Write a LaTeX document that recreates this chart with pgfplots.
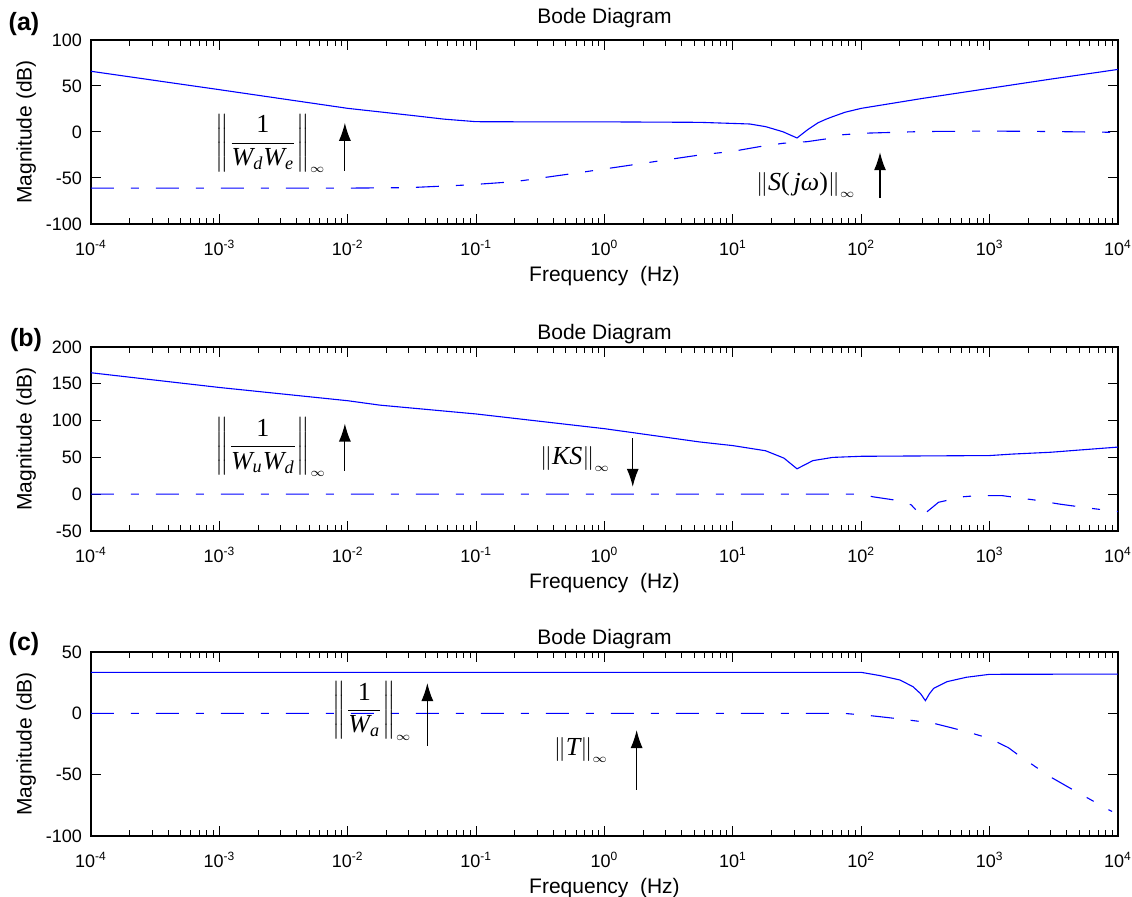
\documentclass[border=0pt]{standalone}
\usepackage{amsmath}
\usepackage{fontspec}
\setmainfont{Liberation Sans}
\newfontfamily\tms{Liberation Serif}
\usepackage{pgfplots}
\pgfplotsset{compat=1.18}
\usetikzlibrary{arrows.meta}

\newcommand\ti[1]{\text{\tms\itshape #1}}
\newcommand\tu[1]{\text{\tms #1}}
\newcommand\inff{_{\scriptscriptstyle\infty}}

\pgfplotsset{
  bode/.style={
    scale only axis, width=513.5pt, height=92pt,
    xmin=1e-4, xmax=1e4, no markers,
    xtick={1e-4,1e-3,1e-2,1e-1,1,1e1,1e2,1e3,1e4},
    xticklabels={10\textsuperscript{-4},10\textsuperscript{-3},10\textsuperscript{-2},10\textsuperscript{-1},
      10\textsuperscript{0},10\textsuperscript{1},10\textsuperscript{2},10\textsuperscript{3},10\textsuperscript{4}},
    axis line style={line width=0.8pt},
    major tick length=5pt, minor tick length=3pt,
    tick style={black, line width=0.5pt},
    tick label style={font=\fontsize{9}{10}\selectfont},
    label style={font=\fontsize{10.5}{12}\selectfont},
    title style={font=\fontsize{10.5}{12}\selectfont, at={(axis description cs:0.5,1)}, anchor=base},
    title={Bode Diagram},
    xlabel={Frequency\ \ (Hz)}, ylabel={Magnitude (dB)},
    xlabel style={at={(axis description cs:0.5,-0.31)}, anchor=base},
    ylabel style={at={(axis description cs:-0.063,0.5)}, anchor=center},
    xticklabel style={anchor=base, yshift=-16pt},
    yticklabel style={xshift=-1pt},
    every axis plot/.append style={blue, line width=0.55pt},
  },
}
\tikzset{
  dd/.style={dash pattern=on 11.5pt off 8.5pt on 4pt off 8.5pt},
  arr/.style={black, line width=0.6pt, -{Latex[length=9pt,width=6pt]}},
  lab/.style={font=\fontsize{13}{15}\selectfont, inner sep=0pt},
}

\begin{document}
\begin{tikzpicture}
\useasboundingbox (0,0) rectangle (566pt,-448.5pt);

% (a) sensitivity
\begin{semilogxaxis}[bode, at={(45.5pt,-20pt)}, anchor=north west,
  title style={yshift=2pt},
  ymin=-100, ymax=100, ytick={-100,-50,0,50,100},
  yticklabels={-100,-50,0,50,100}]
\addplot coordinates {(1e-4,66)(1e-3,46)(1e-2,25.7)(0.0316,18)(0.056,14)(0.1,11.2)
  (0.3,11)(1,11)(5.5,10.5)(13.5,8.7)(18,5.8)(24.5,0.3)(31.6,-6.5)(38,2.2)(46,10)
  (53,13.8)(60,16.7)(75,21.5)(100,25.7)(300,36.5)(1000,47.5)(3000,57.5)(10000,68)};
\addplot[dd] coordinates {(1e-4,-61)(1e-2,-61)(0.03,-60.5)(0.085,-57.6)(0.2,-54)
  (0.65,-44)(1.17,-38.8)(3,-30.4)(5.5,-25)(10,-21)(16,-16)(24.5,-12.3)(38,-10.5)
  (57,-6.9)(72,-3)(100,-1.4)(300,0.5)(1000,1)(3000,0.5)(10000,-0.4)};
\node[lab] at (axis cs:0.00251,-12.5) {$\left\|\dfrac{\tu{1}}{\ti{W}_{\ti{d}}\ti{W}_{\ti{e}}}\right\|\inff$};
\draw[arr] (axis cs:0.0095,-42) -- (axis cs:0.0095,10);
\node[lab] at (axis cs:37,-58) {$\left\|\ti{S}\tu{(}\,\ti{jω}\tu{)}\right\|\inff$};
\draw[arr] (axis cs:140,-72) -- (axis cs:140,-22);
\end{semilogxaxis}

% (b) KS
\begin{semilogxaxis}[bode, at={(45.5pt,-173.5pt)}, anchor=north west,
  title style={yshift=-2.5pt},
  ymin=-50, ymax=200, ytick={-50,0,50,100,150,200},
  yticklabels={-50,0,50,100,150,200}]
\addplot coordinates {(1e-4,165)(1e-3,145)(1e-2,127)(0.0178,121)(0.1,109)(1,89)(5.5,71)(10,66)
  (18,59)(25,49)(31.6,34.5)(42,45.6)(60,50)(100,51.5)(1000,52.5)(1500,54.5)
  (3000,57)(5000,60)(10000,64)};
\addplot[dd] coordinates {(1e-4,0)(100,0)(123,-3.5)(200,-9)(245,-14.5)(300,-31)
  (330,-23)(400,-11)(620,-3.5)(800,-2)(1260,-2)(2200,-7.7)(3550,-13.6)(6000,-19)
  (10000,-23.6)};
\node[lab] at (axis cs:0.00251,64) {$\left\|\dfrac{\tu{1}}{\ti{W}_{\ti{u}}\ti{W}_{\ti{d}}}\right\|\inff$};
\draw[arr] (axis cs:0.0095,32) -- (axis cs:0.0095,96);
\node[lab] at (axis cs:0.59,48) {$\left\|\ti{KS}\right\|\inff$};
\draw[arr] (axis cs:1.66,76) -- (axis cs:1.66,10);
\end{semilogxaxis}

% (c) T
\begin{semilogxaxis}[bode, at={(45.5pt,-326pt)}, anchor=north west,
  title style={yshift=-2.5pt},
  ymin=-100, ymax=50, ytick={-100,-50,0,50},
  yticklabels={-100,-50,0,50}]
\addplot coordinates {(1e-4,33.4)(100,33.4)(141,30.7)(200,27.2)(253,21.7)(290,16)
  (316,10.3)(340,16)(367,20.4)(465,25.8)(660,29.4)(1000,31.8)(10000,32)};
\addplot[dd] coordinates {(1e-4,0)(73,0)(123,-2.1)(209,-4.8)(363,-8)(660,-14.9)
  (1000,-20.5)(1400,-28)(1700,-34.5)(2950,-51.6)(4470,-62.4)(8700,-79.3)(9000,-80)};
\node[lab] at (axis cs:0.0155,2) {$\left\|\dfrac{\tu{1}}{\ti{W}_{\ti{a}}}\right\|\inff$};
\draw[arr] (axis cs:0.0417,-26.6) -- (axis cs:0.0417,24.7);
\node[lab] at (axis cs:0.655,-30) {$\left\|\ti{T}\right\|\inff$};
\draw[arr] (axis cs:1.78,-62.5) -- (axis cs:1.78,-13.6);
\end{semilogxaxis}

\node[font=\bfseries\fontsize{12.5}{14}\selectfont] at (12pt,-12pt) {(a)};
\node[font=\bfseries\fontsize{12.5}{14}\selectfont] at (13pt,-170pt) {(b)};
\node[font=\bfseries\fontsize{12.5}{14}\selectfont] at (12pt,-322pt) {(c)};
\end{tikzpicture}
\end{document}
